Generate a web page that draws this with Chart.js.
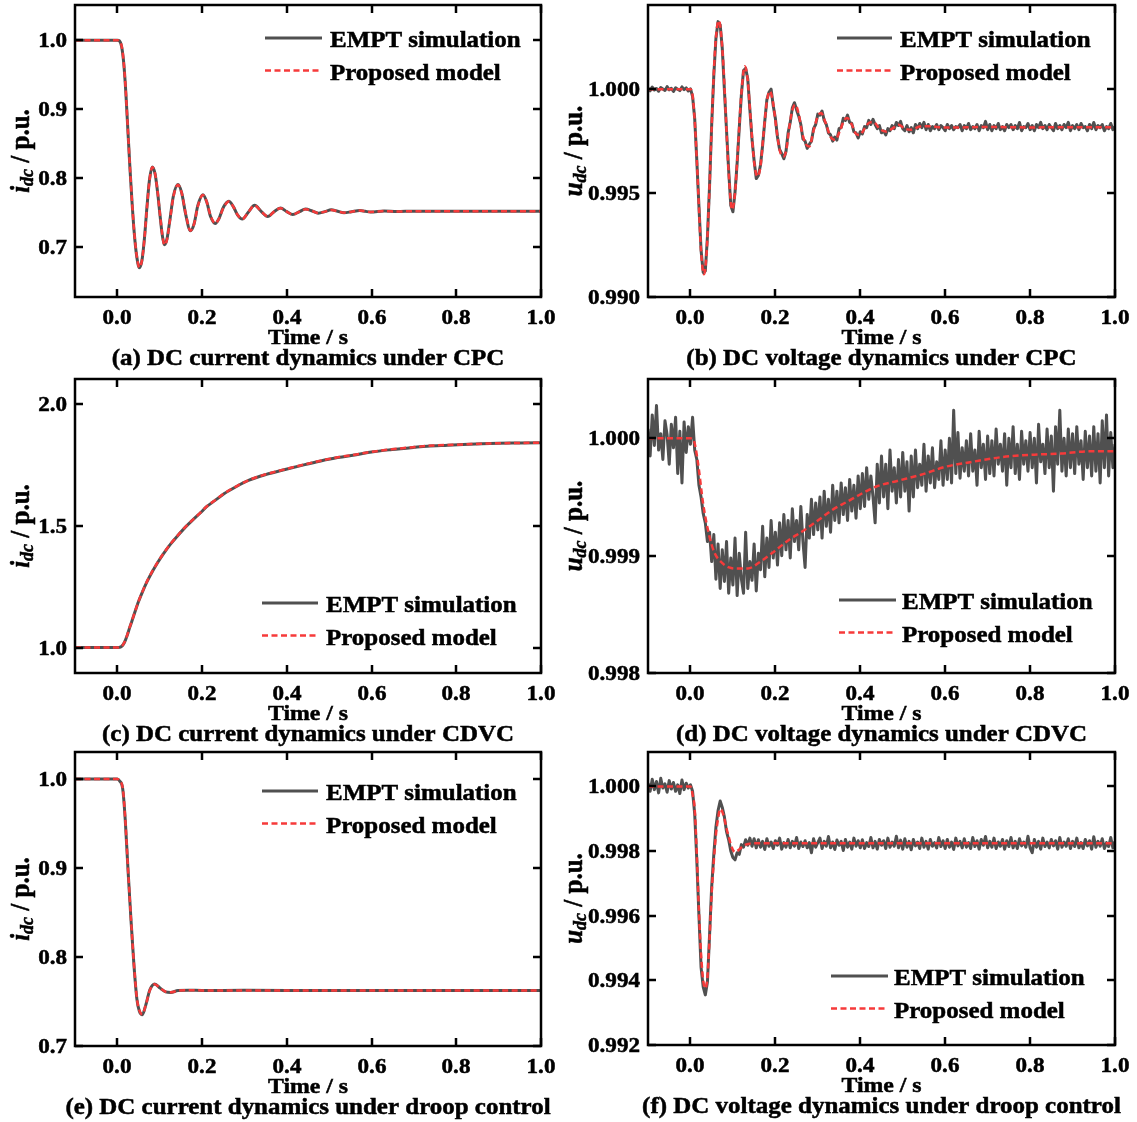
<!DOCTYPE html>
<html>
<head>
<meta charset="utf-8">
<script src="https://cdn.jsdelivr.net/npm/chart.js@4.4.1/dist/chart.umd.min.js"></script>
<style>
  body { margin: 0; background: #fff; }
  #wrap { position: relative; width: 1137px; height: 1122px; overflow: hidden; }
  canvas { position: absolute; }
</style>
</head>
<body>
<div id="wrap">
  <canvas id="ca" width="560" height="375" style="left:0px;top:0px"></canvas>
  <canvas id="cb" width="577" height="375" style="left:560px;top:0px"></canvas>
  <canvas id="cc" width="560" height="380" style="left:0px;top:372px"></canvas>
  <canvas id="cd" width="577" height="380" style="left:560px;top:372px"></canvas>
  <canvas id="ce" width="560" height="377" style="left:0px;top:745px"></canvas>
  <canvas id="cf" width="577" height="377" style="left:560px;top:745px"></canvas>
</div>
<script>
const FONT = "'Liberation Serif', 'Times New Roman', serif"
// the source figure's lettering is a little wider than it is tall
const SX = 1.1

// tick values
const xTicks = [0, 0.2, 0.4, 0.6, 0.8, 1.0]
const yTicksA = [0.7, 0.8, 0.9, 1.0]
const yTicksB = [0.990, 0.995, 1.000]
const yTicksC = [1.0, 1.5, 2.0]
const yTicksD = [0.998, 0.999, 1.000]
const yTicksE = [0.7, 0.8, 0.9, 1.0]
const yTicksF = [0.992, 0.994, 0.996, 0.998, 1.000]

// (a) DC current under CPC
const tA = [-0.1, 0, 0.005, 0.01, 0.015, 0.02, 0.025, 0.03, 0.035, 0.04,
  0.045, 0.052, 0.058, 0.064, 0.07, 0.076, 0.0825, 0.089, 0.095, 0.101,
  0.106, 0.111, 0.117, 0.124, 0.132, 0.143, 0.152, 0.161, 0.1725, 0.181,
  0.19, 0.202, 0.211, 0.22, 0.231, 0.24, 0.25, 0.263, 0.274, 0.284,
  0.295, 0.31, 0.324, 0.34, 0.355, 0.37, 0.385, 0.4, 0.414, 0.43,
  0.444, 0.46, 0.474, 0.49, 0.505, 0.52, 0.535, 0.553, 0.572, 0.585,
  0.598, 0.63, 0.66, 0.7, 0.8, 0.9, 1.0]
const iA_model = [1.0, 1.0, 0.999, 0.992, 0.968, 0.925, 0.868, 0.812, 0.762, 0.72,
  0.69, 0.67, 0.68, 0.712, 0.758, 0.797, 0.8156, 0.806, 0.78, 0.745,
  0.718, 0.7026, 0.71, 0.738, 0.772, 0.79, 0.778, 0.749, 0.7234, 0.733,
  0.759, 0.7753, 0.765, 0.745, 0.734, 0.741, 0.756, 0.7657, 0.758, 0.746,
  0.7404, 0.751, 0.76, 0.751, 0.744, 0.751, 0.756, 0.751, 0.747, 0.751,
  0.7545, 0.752, 0.749, 0.751, 0.7535, 0.7515, 0.7495, 0.751, 0.7525, 0.7515,
  0.7505, 0.7518, 0.7512, 0.7516, 0.7515, 0.7515, 0.7515]
const iA_empt = [1.0, 1.0, 0.999, 0.991, 0.967, 0.924, 0.867, 0.811, 0.761, 0.719,
  0.689, 0.6695, 0.68, 0.713, 0.759, 0.798, 0.816, 0.806, 0.779, 0.744,
  0.717, 0.703, 0.711, 0.739, 0.773, 0.7903, 0.778, 0.748, 0.7232, 0.733,
  0.76, 0.7755, 0.765, 0.744, 0.7338, 0.741, 0.757, 0.766, 0.758, 0.746,
  0.7402, 0.751, 0.7602, 0.751, 0.7438, 0.751, 0.7562, 0.751, 0.7468, 0.751,
  0.7547, 0.752, 0.7488, 0.751, 0.7537, 0.7515, 0.7494, 0.751, 0.7526, 0.7515,
  0.7504, 0.7519, 0.7511, 0.7517, 0.7514, 0.7516, 0.7515]

// shared time base of the noisy EMPT traces, s
const tFine = [-0.1, -0.095, -0.09, -0.085, -0.08, -0.075, -0.07, -0.065, -0.06, -0.055,
  -0.05, -0.045, -0.04, -0.035, -0.03, -0.025, -0.02, -0.015, -0.01, -0.005,
  0, 0.005, 0.01, 0.015, 0.02, 0.025, 0.03, 0.035, 0.04, 0.045,
  0.05, 0.055, 0.06, 0.065, 0.07, 0.075, 0.08, 0.085, 0.09, 0.095,
  0.1, 0.105, 0.11, 0.115, 0.12, 0.125, 0.13, 0.135, 0.14, 0.145,
  0.15, 0.155, 0.16, 0.165, 0.17, 0.175, 0.18, 0.185, 0.19, 0.195,
  0.2, 0.205, 0.21, 0.215, 0.22, 0.225, 0.23, 0.235, 0.24, 0.245,
  0.25, 0.255, 0.26, 0.265, 0.27, 0.275, 0.28, 0.285, 0.29, 0.295,
  0.3, 0.305, 0.31, 0.315, 0.32, 0.325, 0.33, 0.335, 0.34, 0.345,
  0.35, 0.355, 0.36, 0.365, 0.37, 0.375, 0.38, 0.385, 0.39, 0.395,
  0.4, 0.405, 0.41, 0.415, 0.42, 0.425, 0.43, 0.435, 0.44, 0.445,
  0.45, 0.455, 0.46, 0.465, 0.47, 0.475, 0.48, 0.485, 0.49, 0.495,
  0.5, 0.505, 0.51, 0.515, 0.52, 0.525, 0.53, 0.535, 0.54, 0.545,
  0.55, 0.555, 0.56, 0.565, 0.57, 0.575, 0.58, 0.585, 0.59, 0.595,
  0.6, 0.605, 0.61, 0.615, 0.62, 0.625, 0.63, 0.635, 0.64, 0.645,
  0.65, 0.655, 0.66, 0.665, 0.67, 0.675, 0.68, 0.685, 0.69, 0.695,
  0.7, 0.705, 0.71, 0.715, 0.72, 0.725, 0.73, 0.735, 0.74, 0.745,
  0.75, 0.755, 0.76, 0.765, 0.77, 0.775, 0.78, 0.785, 0.79, 0.795,
  0.8, 0.805, 0.81, 0.815, 0.82, 0.825, 0.83, 0.835, 0.84, 0.845,
  0.85, 0.855, 0.86, 0.865, 0.87, 0.875, 0.88, 0.885, 0.89, 0.895,
  0.9, 0.905, 0.91, 0.915, 0.92, 0.925, 0.93, 0.935, 0.94, 0.945,
  0.95, 0.955, 0.96, 0.965, 0.97, 0.975, 0.98, 0.985, 0.99, 0.995,
  1.0]

// (b) DC voltage under CPC
const tB = [-0.1, 0, 0.005, 0.01, 0.015, 0.02, 0.025, 0.032, 0.038, 0.044,
  0.05, 0.056, 0.062, 0.067, 0.072, 0.078, 0.084, 0.09, 0.098, 0.105,
  0.112, 0.12, 0.128, 0.135, 0.142, 0.15, 0.158, 0.165, 0.172, 0.18,
  0.187, 0.195, 0.203, 0.211, 0.219, 0.226, 0.233, 0.24, 0.247, 0.255,
  0.263, 0.272, 0.28, 0.29, 0.3, 0.308, 0.318, 0.33, 0.341, 0.352,
  0.362, 0.369, 0.38, 0.39, 0.399, 0.41, 0.422, 0.432, 0.445, 0.46,
  0.475, 0.49, 0.505, 0.52, 0.54, 0.56, 0.6, 0.7, 0.8, 0.9, 1.0]
const uB_model = [1.0, 1.0, 0.9997, 0.9985, 0.9966, 0.9943, 0.9922, 0.9911, 0.9921, 0.9948,
  0.9982, 1.0012, 1.0029, 1.0033, 1.0027, 1.001, 0.9984, 0.996, 0.9942, 0.995,
  0.9972, 0.9998, 1.0011, 1.0004, 0.9985, 0.9965, 0.9958, 0.9963, 0.9978, 0.9994,
  0.9999, 0.9993, 0.998, 0.997, 0.99676, 0.9971, 0.9982, 0.999, 0.99925, 0.9988,
  0.9979, 0.99735, 0.99724, 0.998, 0.9987, 0.99885, 0.9984, 0.9977, 0.99756, 0.998,
  0.9985, 0.99861, 0.9983, 0.99785, 0.9978, 0.9981, 0.9984, 0.99841, 0.9981, 0.99796,
  0.9981, 0.99829, 0.9981, 0.99805, 0.9982, 0.99822, 0.99815, 0.99818, 0.99816, 0.99817, 0.99817]
const uB_empt = [1.00005, 0.99992, 1.00010, 0.99996, 1.00003, 0.99990, 1.00008, 1.00001, 0.99994, 1.00012,
  0.99997, 1.00004, 0.99989, 1.00007, 1.00000, 0.99993, 1.00011, 0.99998, 1.00006, 0.99991,
  1.00002, 0.99965, 0.99858, 0.99655, 0.99436, 0.99225, 0.99118, 0.99125, 0.99290, 0.99535,
  0.99830, 1.00065, 1.00245, 1.00325, 1.00310, 1.00195, 0.99995, 0.99800, 0.99610, 0.99440,
  0.99410, 0.99505, 0.99645, 0.99815, 0.99975, 1.00090, 1.00100, 1.00050, 0.99900, 0.99760,
  0.99655, 0.99570, 0.99585, 0.99635, 0.99730, 0.99845, 0.99950, 0.99985, 1.00000, 0.99920,
  0.99860, 0.99770, 0.99710, 0.99690, 0.99665, 0.99700, 0.99790, 0.99840, 0.99910, 0.99935,
  0.99900, 0.99870, 0.99830, 0.99760, 0.99750, 0.99715, 0.99735, 0.99750, 0.99810, 0.99830,
  0.99880, 0.99875, 0.99895, 0.99850, 0.99830, 0.99790, 0.99780, 0.99750, 0.99770, 0.99755,
  0.99810, 0.99815, 0.99860, 0.99850, 0.99875, 0.99840, 0.99835, 0.99795, 0.99790, 0.99765,
  0.99795, 0.99785, 0.99820, 0.99815, 0.99850, 0.99830, 0.99855, 0.99830, 0.99810, 0.99825,
  0.99790, 0.99800, 0.99780, 0.99810, 0.99800, 0.99825, 0.99810, 0.99840, 0.99825, 0.99845,
  0.99810, 0.99800, 0.99825, 0.99795, 0.99815, 0.99790, 0.99830, 0.99810, 0.99835, 0.99815,
  0.99840, 0.99805, 0.99830, 0.99800, 0.99820, 0.99810, 0.99830, 0.99805, 0.99825, 0.99815,
  0.99800, 0.99830, 0.99810, 0.99825, 0.99805, 0.99820, 0.99815, 0.99830, 0.99800, 0.99825,
  0.99810, 0.99835, 0.99805, 0.99820, 0.99810, 0.99830, 0.99800, 0.99825, 0.99815, 0.99845,
  0.99805, 0.99830, 0.99800, 0.99825, 0.99810, 0.99835, 0.99805, 0.99820, 0.99800, 0.99830,
  0.99815, 0.99830, 0.99805, 0.99825, 0.99810, 0.99840, 0.99800, 0.99820, 0.99815, 0.99835,
  0.99805, 0.99825, 0.99800, 0.99830, 0.99815, 0.99840, 0.99810, 0.99825, 0.99805, 0.99830,
  0.99815, 0.99800, 0.99835, 0.99810, 0.99825, 0.99805, 0.99830, 0.99815, 0.99840, 0.99800,
  0.99825, 0.99810, 0.99830, 0.99805, 0.99835, 0.99815, 0.99820, 0.99800, 0.99830, 0.99810,
  0.99840, 0.99805, 0.99825, 0.99815, 0.99830, 0.99800, 0.99820, 0.99810, 0.99835, 0.99805,
  0.99820]

// (c) DC current under CDVC
const tC = [-0.1, 0, 0.005, 0.01, 0.017, 0.023, 0.029, 0.035, 0.042, 0.05,
  0.059, 0.07, 0.084, 0.096, 0.109, 0.125, 0.143, 0.16, 0.177, 0.195,
  0.21, 0.23, 0.2525, 0.28, 0.311, 0.35, 0.396, 0.44, 0.48, 0.52,
  0.564, 0.6, 0.648, 0.7, 0.732, 0.78, 0.816, 0.86, 0.9, 0.95, 1.0]
const iC_model = [1.0, 1.0, 1.001, 1.005, 1.023, 1.05, 1.083, 1.113, 1.15, 1.19,
  1.229, 1.272, 1.318, 1.353, 1.387, 1.425, 1.462, 1.495, 1.524, 1.553,
  1.579, 1.605, 1.634, 1.662, 1.689, 1.712, 1.733, 1.752, 1.768, 1.782,
  1.794, 1.805, 1.815, 1.824, 1.829, 1.833, 1.835, 1.838, 1.840, 1.841, 1.842]
const iC_empt = [1.0, 1.0, 1.001, 1.005, 1.022, 1.049, 1.082, 1.112, 1.149, 1.189,
  1.228, 1.271, 1.317, 1.352, 1.386, 1.424, 1.461, 1.494, 1.523, 1.552,
  1.578, 1.604, 1.633, 1.661, 1.688, 1.711, 1.732, 1.751, 1.767, 1.781,
  1.793, 1.804, 1.814, 1.823, 1.828, 1.832, 1.835, 1.838, 1.840, 1.841, 1.842]

// (d) DC voltage under CDVC
const tD = [-0.1, 0, 0.008, 0.017, 0.03, 0.043, 0.056, 0.074, 0.091, 0.109,
  0.135, 0.161, 0.195, 0.23, 0.265, 0.3, 0.334, 0.369, 0.404, 0.438,
  0.49, 0.543, 0.603, 0.664, 0.733, 0.803, 0.872, 0.94, 1.0]
const uD_model = [1.0, 1.0, 0.99998, 0.99981, 0.99944, 0.99919, 0.99903, 0.99894, 0.9989, 0.99889,
  0.99889, 0.99894, 0.99903, 0.99913, 0.99921, 0.9993, 0.99939, 0.99946, 0.99953, 0.99959,
  0.99964, 0.99969, 0.99976, 0.9998, 0.99984, 0.99986, 0.99987, 0.99989, 0.99989]
const uD_empt = [1.00008, 0.99985, 1.00020, 0.99994, 1.00028, 0.99990, 1.00004, 0.99982, 1.00015, 1.00003,
  0.99978, 1.00012, 0.99992, 1.00018, 0.99970, 1.00006, 0.99962, 1.00014, 0.99988, 1.00010,
  0.99995, 1.00018, 0.99990, 0.99982, 0.99960, 0.99950, 0.99936, 0.99928, 0.99912, 0.99920,
  0.99895, 0.99918, 0.99880, 0.99910, 0.99872, 0.99905, 0.99878, 0.99912, 0.99868, 0.99898,
  0.99875, 0.99915, 0.99866, 0.99902, 0.99880, 0.99868, 0.99920, 0.99872, 0.99895, 0.99879,
  0.99910, 0.99870, 0.99902, 0.99888, 0.99925, 0.99882, 0.99915, 0.99890, 0.99930, 0.99898,
  0.99920, 0.99892, 0.99928, 0.99900, 0.99935, 0.99905, 0.99930, 0.99898, 0.99940, 0.99912,
  0.99930, 0.99905, 0.99942, 0.99912, 0.99890, 0.99935, 0.99915, 0.99948, 0.99918, 0.99945,
  0.99922, 0.99950, 0.99915, 0.99955, 0.99925, 0.99948, 0.99920, 0.99960, 0.99930, 0.99955,
  0.99928, 0.99962, 0.99935, 0.99958, 0.99930, 0.99965, 0.99938, 0.99960, 0.99932, 0.99968,
  0.99940, 0.99970, 0.99942, 0.99975, 0.99948, 0.99968, 0.99950, 0.99928, 0.99978, 0.99945,
  0.99985, 0.99950, 0.99978, 0.99940, 0.99990, 0.99955, 0.99975, 0.99945, 0.99982, 0.99950,
  0.99988, 0.99955, 0.99980, 0.99938, 0.99985, 0.99950, 0.99990, 0.99958, 0.99978, 0.99960,
  0.99995, 0.99955, 0.99985, 0.99962, 0.99992, 0.99958, 0.99980, 0.99965, 0.99998, 0.99960,
  0.99990, 0.99965, 1.00000, 0.99962, 1.00024, 0.99970, 1.00005, 0.99966, 0.99992, 0.99972,
  0.99998, 0.99968, 1.00004, 0.99972, 0.99990, 0.99960, 1.00006, 0.99975, 0.99995, 0.99965,
  1.00002, 0.99970, 0.99998, 0.99968, 1.00008, 0.99978, 0.99995, 0.99972, 1.00004, 0.99960,
  1.00000, 0.99975, 1.00010, 0.99970, 0.99995, 0.99965, 1.00006, 0.99978, 0.99998, 0.99972,
  1.00005, 0.99975, 1.00000, 0.99962, 1.00012, 0.99980, 0.99995, 0.99970, 1.00008, 0.99975,
  1.00002, 0.99955, 1.00010, 0.99978, 1.00024, 0.99972, 1.00000, 0.99968, 1.00008, 0.99975,
  1.00004, 0.99970, 1.00010, 0.99978, 0.99998, 0.99965, 1.00006, 0.99975, 1.00002, 0.99968,
  1.00010, 0.99972, 1.00004, 0.99962, 1.00015, 0.99975, 1.00020, 0.99968, 1.00005, 0.99975,
  0.99995]

// (e) DC current under droop control
const tE = [-0.1, 0, 0.005, 0.0126, 0.0185, 0.025, 0.032, 0.0387, 0.046, 0.052,
  0.059, 0.067, 0.077, 0.088, 0.101, 0.114, 0.126, 0.143, 0.168, 0.2,
  0.3, 0.5, 0.7, 1.0]
const iE_model = [1.0, 1.0, 0.998, 0.99, 0.956, 0.9, 0.844, 0.795, 0.754, 0.74,
  0.7356, 0.746, 0.763, 0.7694, 0.765, 0.761, 0.7604, 0.7622, 0.7626, 0.7625,
  0.7625, 0.7625, 0.7625, 0.7625]
const iE_empt = [1.0, 1.0, 0.998, 0.989, 0.955, 0.899, 0.843, 0.794, 0.753, 0.739,
  0.7352, 0.746, 0.7635, 0.7698, 0.765, 0.7608, 0.7602, 0.7623, 0.7627, 0.7624,
  0.7626, 0.7624, 0.7625, 0.7625]

// (f) DC voltage under droop control
const tF = [-0.1, 0, 0.005, 0.01, 0.015, 0.02, 0.025, 0.03, 0.035, 0.04,
  0.045, 0.05, 0.055, 0.06, 0.065, 0.07, 0.075, 0.08, 0.085, 0.09,
  0.095, 0.1, 0.105, 0.11, 0.115, 0.12, 0.125, 0.13, 0.14, 0.15,
  0.3, 0.5, 0.7, 1.0]
const uF_model = [1.0, 1.0, 0.99975, 0.9993, 0.99789, 0.99613, 0.9948, 0.994, 0.99375, 0.9941,
  0.9953, 0.9967, 0.99768, 0.9985, 0.999, 0.9993, 0.99922, 0.999, 0.9987, 0.99845,
  0.9982, 0.99804, 0.99797, 0.998, 0.99805, 0.99811, 0.99816, 0.9982, 0.99823, 0.99824,
  0.99824, 0.99824, 0.99824, 0.99824]
const uF_empt = [1.00010, 0.99985, 1.00022, 0.99990, 1.00015, 0.99980, 1.00025, 0.99995, 1.00008, 0.99982,
  1.00018, 0.99992, 1.00012, 0.99985, 1.00005, 0.99978, 1.00020, 0.99990, 1.00010, 0.99995,
  1.00005, 0.99985, 0.99915, 0.99770, 0.99600, 0.99440, 0.99380, 0.99355, 0.99395, 0.99540,
  0.99690, 0.99790, 0.99875, 0.99925, 0.99955, 0.99935, 0.99905, 0.99860, 0.99835, 0.99800,
  0.99780, 0.99773, 0.99795, 0.99790, 0.99820, 0.99812, 0.99835, 0.99818, 0.99840, 0.99815,
  0.99838, 0.99810, 0.99835, 0.99812, 0.99830, 0.99805, 0.99838, 0.99815, 0.99828, 0.99808,
  0.99832, 0.99818, 0.99840, 0.99806, 0.99826, 0.99812, 0.99836, 0.99810, 0.99830, 0.99815,
  0.99842, 0.99808, 0.99828, 0.99814, 0.99832, 0.99810, 0.99826, 0.99795, 0.99838, 0.99812,
  0.99826, 0.99840, 0.99808, 0.99830, 0.99815, 0.99845, 0.99810, 0.99828, 0.99805, 0.99834,
  0.99818, 0.99830, 0.99802, 0.99836, 0.99812, 0.99828, 0.99806, 0.99840, 0.99815, 0.99832,
  0.99810, 0.99835, 0.99808, 0.99826, 0.99814, 0.99842, 0.99810, 0.99830, 0.99806, 0.99836,
  0.99818, 0.99832, 0.99808, 0.99840, 0.99812, 0.99828, 0.99815, 0.99846, 0.99810, 0.99834,
  0.99806, 0.99838, 0.99812, 0.99830, 0.99804, 0.99836, 0.99816, 0.99828, 0.99808, 0.99840,
  0.99812, 0.99830, 0.99806, 0.99836, 0.99815, 0.99826, 0.99810, 0.99842, 0.99814, 0.99832,
  0.99808, 0.99836, 0.99812, 0.99828, 0.99805, 0.99840, 0.99816, 0.99830, 0.99810, 0.99838,
  0.99812, 0.99826, 0.99808, 0.99842, 0.99814, 0.99832, 0.99806, 0.99836, 0.99818, 0.99845,
  0.99810, 0.99830, 0.99812, 0.99840, 0.99808, 0.99828, 0.99815, 0.99836, 0.99806, 0.99832,
  0.99814, 0.99842, 0.99810, 0.99830, 0.99808, 0.99838, 0.99816, 0.99828, 0.99812, 0.99846,
  0.99810, 0.99795, 0.99836, 0.99812, 0.99830, 0.99806, 0.99840, 0.99814, 0.99828, 0.99810,
  0.99836, 0.99816, 0.99832, 0.99806, 0.99842, 0.99812, 0.99828, 0.99815, 0.99838, 0.99808,
  0.99830, 0.99814, 0.99840, 0.99810, 0.99826, 0.99808, 0.99836, 0.99816, 0.99832, 0.99806,
  0.99844, 0.99812, 0.99830, 0.99815, 0.99838, 0.99808, 0.99826, 0.99814, 0.99842, 0.99810,
  0.99830]

const GRAY = "rgb(80,80,80)"
const RED = "rgb(246,58,58)"

function xy(ts, vs) {
  return ts.map((t, i) => ({ x: t, y: vs[i] }))
}

// horizontal text, widened like the source lettering
function txt(ctx, s, x, y, size, align) {
  ctx.save()
  ctx.translate(x, y)
  ctx.scale(SX, 1)
  ctx.font = "bold " + size + "px " + FONT
  ctx.textAlign = align
  ctx.textBaseline = "alphabetic"
  ctx.fillStyle = "#000"
  ctx.strokeStyle = "#000"
  ctx.lineWidth = 0.5
  ctx.setLineDash([])
  ctx.fillText(s, 0, 0)
  ctx.strokeText(s, 0, 0)
  ctx.restore()
}

// border, inward ticks on all four sides, tick labels, legend and titles
const framePlugin = {
  id: "frame",
  afterDatasetsDraw(chart, args, o) {
    const { ctx, chartArea: a, scales } = chart
    ctx.save()
    ctx.strokeStyle = "#000"
    ctx.lineWidth = 2.5
    ctx.strokeRect(a.left, a.top, a.right - a.left, a.bottom - a.top)
    ctx.beginPath()
    scales.x.ticks.forEach((t) => {
      const px = Math.round(scales.x.getPixelForValue(t.value))
      ctx.moveTo(px, a.bottom); ctx.lineTo(px, a.bottom - 8)
      ctx.moveTo(px, a.top); ctx.lineTo(px, a.top + 8)
    })
    scales.y.ticks.forEach((t) => {
      const py = Math.round(scales.y.getPixelForValue(t.value))
      ctx.moveTo(a.left, py); ctx.lineTo(a.left + 8, py)
      ctx.moveTo(a.right, py); ctx.lineTo(a.right - 8, py)
    })
    ctx.stroke()

    // tick labels
    scales.x.ticks.forEach((t) => {
      const px = Math.round(scales.x.getPixelForValue(t.value))
      txt(ctx, t.value.toFixed(1), px, a.bottom + 27, 21, "center")
    })
    scales.y.ticks.forEach((t) => {
      const py = Math.round(scales.y.getPixelForValue(t.value))
      txt(ctx, t.value.toFixed(o.dec), a.left - 8, py + 7, 21, "right")
    })

    // legend
    const [lx1, lx2, tx, ly] = o.leg
    chart.data.datasets.forEach((ds, i) => {
      const y = ly + i * 32.5
      ctx.beginPath()
      ctx.strokeStyle = ds.borderColor
      ctx.lineWidth = ds.borderWidth
      ctx.setLineDash(ds.borderDash || [])
      ctx.moveTo(lx1, y); ctx.lineTo(lx2, y)
      ctx.stroke()
      ctx.setLineDash([])
      txt(ctx, ds.label, tx, y + 9, 22.7, "left")
    })

    // x title and caption
    const cx = (a.left + a.right) / 2
    txt(ctx, "Time / s", cx, a.bottom + 47, 21.6, "center")
    txt(ctx, o.caption, cx, a.bottom + 68, 22.7, "center")

    // y title with subscript, rotated
    const big = "italic bold 25px " + FONT
    const sub = "italic bold 18px " + FONT
    const rest = "bold 25px " + FONT
    ctx.font = big; const w1 = ctx.measureText(o.yVar).width
    ctx.font = sub; const w2 = ctx.measureText("dc").width
    ctx.font = rest; const w3 = ctx.measureText(" / p.u.").width
    ctx.translate(o.ytx, (a.top + a.bottom) / 2)
    ctx.rotate(-Math.PI / 2)
    ctx.scale(1, SX)
    ctx.fillStyle = "#000"
    ctx.strokeStyle = "#000"
    ctx.lineWidth = 0.5
    ctx.textAlign = "left"
    ctx.textBaseline = "alphabetic"
    let px = -(w1 + w2 + w3) / 2
    ctx.font = big; ctx.fillText(o.yVar, px, 0); ctx.strokeText(o.yVar, px, 0); px += w1
    ctx.font = sub; ctx.fillText("dc", px, 4); ctx.strokeText("dc", px, 4); px += w2
    ctx.font = rest; ctx.fillText(" / p.u.", px, 0); ctx.strokeText(" / p.u.", px, 0)
    ctx.restore()
  },
}

const panels = [
  { id: "ca", te: tA, e: iA_empt, tm: tA, m: iA_model, noisy: false, ymin: 0.627, ymax: 1.0512, yTicks: yTicksA, dec: 1,
    yVar: "i", caption: "(a) DC current dynamics under CPC", yw: 75, pr: 19, pt: 5, xh: 78, leg: [265, 322, 330, 38], ytx: 29 },
  { id: "cb", te: tFine, e: uB_empt, tm: tB, m: uB_model, noisy: true, ymin: 0.990, ymax: 1.00405, yTicks: yTicksB, dec: 3,
    yVar: "u", caption: "(b) DC voltage dynamics under CPC", yw: 88, pr: 22, pt: 5, xh: 78, leg: [277, 332, 340, 38], ytx: 22 },
  { id: "cc", te: tC, e: iC_empt, tm: tC, m: iC_model, noisy: false, ymin: 0.8955, ymax: 2.104, yTicks: yTicksC, dec: 1,
    yVar: "i", caption: "(c) DC current dynamics under CDVC", yw: 75, pr: 19, pt: 7, xh: 79, leg: [262, 318, 326, 231], ytx: 29 },
  { id: "cd", te: tFine, e: uD_empt, tm: tD, m: uD_model, noisy: true, ymin: 0.998, ymax: 1.000506, yTicks: yTicksD, dec: 3,
    yVar: "u", caption: "(d) DC voltage dynamics under CDVC", yw: 88, pr: 22, pt: 7, xh: 79, leg: [279, 336, 342, 228], ytx: 22 },
  { id: "ce", te: tE, e: iE_empt, tm: tE, m: iE_model, noisy: false, ymin: 0.7, ymax: 1.0304, yTicks: yTicksE, dec: 1,
    yVar: "i", caption: "(e) DC current dynamics under droop control", yw: 75, pr: 19, pt: 7, xh: 76, leg: [262, 318, 326, 46], ytx: 29 },
  { id: "cf", te: tFine, e: uF_empt, tm: tF, m: uF_model, noisy: true, ymin: 0.992, ymax: 1.001065, yTicks: yTicksF, dec: 3,
    yVar: "u", caption: "(f) DC voltage dynamics under droop control", yw: 88, pr: 22, pt: 7, xh: 77, leg: [271, 328, 334, 231], ytx: 22 },
]

panels.forEach((p) => {
  const ctx = document.getElementById(p.id).getContext("2d")
  new Chart(ctx, {
    type: "line",
    data: {
      datasets: [
        {
          label: "EMPT simulation",
          data: xy(p.te, p.e),
          borderColor: GRAY,
          borderWidth: 3,
          borderJoinStyle: "round",
          pointRadius: 0,
          tension: 0,
          cubicInterpolationMode: p.noisy ? "default" : "monotone",
          order: 1,
        },
        {
          label: "Proposed model",
          data: xy(p.tm, p.m),
          borderColor: RED,
          borderWidth: 2.5,
          borderDash: [6, 3.5],
          pointRadius: 0,
          cubicInterpolationMode: "monotone",
          order: 0,
        },
      ],
    },
    options: {
      responsive: false,
      animation: false,
      devicePixelRatio: 1,
      events: [],
      layout: { padding: { left: 0, right: p.pr, top: p.pt, bottom: 0 } },
      plugins: {
        legend: { display: false },
        tooltip: { enabled: false },
        frame: p,
      },
      scales: {
        x: {
          type: "linear",
          min: -0.1,
          max: 1.0,
          grid: { display: false, drawTicks: false },
          border: { display: false },
          ticks: { display: false },
          afterBuildTicks: (s) => { s.ticks = xTicks.map((v) => ({ value: v })) },
          afterFit: (s) => {
            s.height = p.xh
            s.paddingLeft = 0; s.paddingRight = 0
          },
        },
        y: {
          type: "linear",
          min: p.ymin,
          max: p.ymax,
          grid: { display: false, drawTicks: false },
          border: { display: false },
          ticks: { display: false },
          afterBuildTicks: (s) => { s.ticks = p.yTicks.map((v) => ({ value: v })) },
          afterFit: (s) => {
            s.width = p.yw
            s.paddingTop = 0; s.paddingBottom = 0
          },
        },
      },
    },
    plugins: [framePlugin],
  })
})
</script>
</body>
</html>
